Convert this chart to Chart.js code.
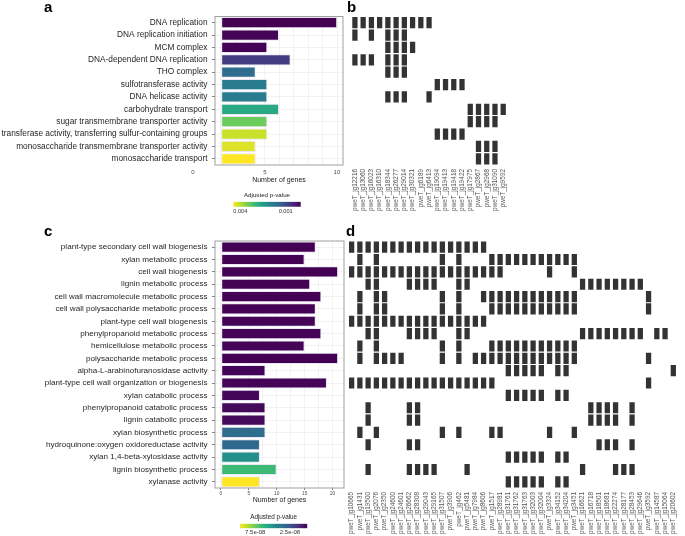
<!DOCTYPE html>
<html>
<head>
<meta charset="utf-8">
<script src="https://cdn.jsdelivr.net/npm/chart.js@4.4.1/dist/chart.umd.min.js"></script>
<style>
  body { margin: 0; background: #fff; }
  #page { position: relative; width: 685px; height: 536px; overflow: hidden; }
  canvas { position: absolute; }
  .tag { position: absolute; font: bold 15px/1 "Liberation Sans", Arial, sans-serif; color: #000; }
</style>
</head>
<body>
<div id="page">
  <canvas id="chartA" width="350" height="184" style="left:0;top:0"></canvas>
  <canvas id="legendA" width="85" height="30" style="left:225px;top:187px"></canvas>
  <canvas id="chartB" width="170" height="216" style="left:345px;top:0"></canvas>
  <canvas id="chartC" width="350" height="276" style="left:0;top:228px"></canvas>
  <canvas id="legendC" width="85" height="26" style="left:232px;top:510px"></canvas>
  <canvas id="chartD" width="340" height="308" style="left:345px;top:228px"></canvas>
  <div class="tag" style="left:44px;top:-1px">a</div>
  <div class="tag" style="left:347px;top:-1px">b</div>
  <div class="tag" style="left:44px;top:223px">c</div>
  <div class="tag" style="left:346px;top:223px">d</div>
</div>
<script>
// ---- panel a / b : enriched terms (top half) ----
const termsA = [
  'DNA replication', 'DNA replication initiation', 'MCM complex', 'DNA-dependent DNA replication',
  'THO complex', 'sulfotransferase activity', 'DNA helicase activity', 'carbohydrate transport',
  'sugar transmembrane transporter activity', 'transferase activity, transferring sulfur-containing groups',
  'monosaccharide transmembrane transporter activity', 'monosaccharide transport'
];
const countsA = [10, 5, 4, 6, 3, 4, 4, 5, 4, 4, 3, 3];
const padjA = [1.0e-5, 3.0e-5, 4.0e-5, 7.7e-4, 1.57e-3, 1.88e-3, 1.88e-3, 2.68e-3, 3.44e-3, 4.10e-3, 4.24e-3, 4.46e-3];
const axisTicksA = [0, 5, 10];
const legendTicksA = [0.004, 0.001];

const genesB = [
  'pweT_jg12216', 'pweT_jg13060', 'pweT_jg16023', 'pweT_jg16310', 'pweT_jg18344', 'pweT_jg26277',
  'pweT_jg29014', 'pweT_jg30321', 'pweT_jg6189', 'pweT_jg6413', 'pweT_jg19094', 'pweT_jg19413',
  'pweT_jg19418', 'pweT_jg19422', 'pweT_jg17975', 'pweT_jg2867', 'pweT_jg2968', 'pweT_jg31090', 'pweT_jg9592'
];
// gene columns (index into genesB) belonging to each term of termsA
const membersB = [
  [0, 1, 2, 3, 4, 5, 6, 7, 8, 9],
  [0, 2, 4, 5, 6],
  [4, 5, 6, 7],
  [0, 1, 2, 4, 5, 6],
  [4, 5, 6],
  [10, 11, 12, 13],
  [4, 5, 6, 9],
  [14, 15, 16, 17, 18],
  [14, 15, 16, 17],
  [10, 11, 12, 13],
  [15, 16, 17],
  [15, 16, 17]
];

// ---- panel c / d : cell wall terms (bottom half) ----
const termsC = [
  'plant-type secondary cell wall biogenesis', 'xylan metabolic process', 'cell wall biogenesis',
  'lignin metabolic process', 'cell wall macromolecule metabolic process', 'cell wall polysaccharide metabolic process',
  'plant-type cell wall biogenesis', 'phenylpropanoid metabolic process', 'hemicellulose metabolic process',
  'polysaccharide metabolic process', 'alpha-L-arabinofuranosidase activity', 'plant-type cell wall organization or biogenesis',
  'xylan catabolic process', 'phenylpropanoid catabolic process', 'lignin catabolic process',
  'xylan biosynthetic process', 'hydroquinone:oxygen oxidoreductase activity', 'xylan 1,4-beta-xylosidase activity',
  'lignin biosynthetic process', 'xylanase activity'
];
const countsC = [17, 15, 21, 16, 18, 17, 17, 18, 15, 21, 8, 19, 7, 8, 8, 8, 7, 7, 10, 7];
const padjC = [2.1e-10, 3.5e-10, 1.0e-10, 5.2e-10, 2.8e-10, 4.1e-10, 6.0e-10, 7.3e-10, 8.8e-10, 1.6e-10,
               1.2e-9, 9.5e-10, 1.4e-9, 2.2e-9, 2.4e-9, 3.4e-8, 3.3e-8, 4.85e-8, 6.6e-8, 9.7e-8];
const axisTicksC = [0, 5, 10, 15, 20];
const legendTicksC = [7.5e-8, 2.5e-8];

const genesD = [
  'pweT_jg10665', 'pweT_jg1431', 'pweT_jg19500', 'pweT_jg2076', 'pweT_jg2350', 'pweT_jg24600',
  'pweT_jg24601', 'pweT_jg26662', 'pweT_jg28308', 'pweT_jg29043', 'pweT_jg29165', 'pweT_jg31507',
  'pweT_jg3906', 'pweT_jg462', 'pweT_jg5481', 'pweT_jg7984', 'pweT_jg8606', 'pweT_jg1517',
  'pweT_jg28981', 'pweT_jg31761', 'pweT_jg31762', 'pweT_jg31763', 'pweT_jg32003', 'pweT_jg32004',
  'pweT_jg3324', 'pweT_jg34152', 'pweT_jg34204', 'pweT_jg3451', 'pweT_jg16621', 'pweT_jg16718',
  'pweT_jg18501', 'pweT_jg18681', 'pweT_jg22274', 'pweT_jg28177', 'pweT_jg28453', 'pweT_jg29646',
  'pweT_jg3592', 'pweT_jg14587', 'pweT_jg15064', 'pweT_jg20602'
];
const membersD = [
  [0, 1, 2, 3, 4, 5, 6, 7, 8, 9, 10, 11, 12, 13, 14, 15, 16],
  [1, 3, 11, 13, 17, 18, 19, 20, 21, 22, 23, 24, 25, 26, 27],
  [0, 1, 2, 3, 4, 5, 6, 7, 8, 9, 10, 11, 12, 13, 14, 15, 16, 17, 18, 24, 27],
  [2, 3, 7, 8, 9, 10, 13, 14, 28, 29, 30, 31, 32, 33, 34, 35],
  [1, 3, 4, 11, 13, 16, 17, 18, 19, 20, 21, 22, 23, 24, 25, 26, 27, 36],
  [1, 3, 4, 11, 13, 17, 18, 19, 20, 21, 22, 23, 24, 25, 26, 27, 36],
  [0, 1, 2, 3, 4, 5, 6, 7, 8, 9, 10, 11, 12, 13, 14, 15, 16],
  [2, 3, 7, 8, 9, 10, 13, 14, 28, 29, 30, 31, 32, 33, 34, 35, 37, 38],
  [1, 3, 11, 13, 17, 18, 19, 20, 21, 22, 23, 24, 25, 26, 27],
  [1, 3, 4, 5, 6, 11, 13, 15, 16, 17, 18, 19, 20, 21, 22, 23, 24, 25, 26, 27, 36],
  [19, 20, 21, 22, 23, 25, 26, 39],
  [0, 1, 2, 3, 4, 5, 6, 7, 8, 9, 10, 11, 12, 13, 14, 15, 16, 17, 36],
  [19, 20, 21, 22, 23, 25, 26],
  [2, 7, 8, 29, 30, 31, 32, 34],
  [2, 7, 8, 29, 30, 31, 32, 34],
  [1, 3, 11, 13, 17, 18, 24, 27],
  [2, 7, 8, 30, 31, 32, 34],
  [19, 20, 21, 22, 23, 25, 26],
  [2, 7, 8, 9, 10, 14, 28, 32, 33, 34],
  [19, 20, 21, 22, 23, 25, 26]
];

// ---- helpers ----
Chart.defaults.font.family = '"Liberation Sans", Arial, Helvetica, sans-serif';
Chart.defaults.animation = false;

const viridisStops = ['#440154', '#482878', '#3e4a89', '#31688e', '#26828e',
                      '#1f9e89', '#35b779', '#6dcd59', '#b4de2c', '#fde725'];

function hexRgb(h) {
  return [1, 3, 5].map(i => parseInt(h.slice(i, i + 2), 16));
}

function viridis(t) {
  t = Math.min(1, Math.max(0, t));
  const pos = t * (viridisStops.length - 1);
  const i = Math.min(Math.floor(pos), viridisStops.length - 2);
  const f = pos - i;
  const a = hexRgb(viridisStops[i]), b = hexRgb(viridisStops[i + 1]);
  const c = a.map((v, k) => Math.round(v + (b[k] - v) * f));
  return 'rgb(' + c.join(',') + ')';
}

// majors plus evenly split minor lines between them
function gridLines(majors, parts) {
  const out = [];
  majors.forEach((v, i) => {
    out.push(v);
    if (i < majors.length - 1) {
      const step = (majors[i + 1] - v) / parts;
      for (let k = 1; k < parts; k++) out.push(v + k * step);
    }
  });
  return out;
}

const panelFrame = {
  id: 'panelFrame',
  afterDatasetsDraw(chart, args, opts) {
    const { ctx, chartArea: a } = chart;
    ctx.save();
    ctx.strokeStyle = opts.color || '#999';
    ctx.lineWidth = 1;
    ctx.strokeRect(a.left, a.top, a.width, a.height);
    ctx.restore();
  }
};

function termBars(terms, counts, padj) {
  const lo = Math.min(...padj), hi = Math.max(...padj);
  return {
    labels: terms,
    datasets: [{
      data: counts,
      backgroundColor: padj.map(p => viridis((p - lo) / (hi - lo))),
      borderColor: 'rgba(232,228,242,0.95)',
      borderWidth: 1,
      borderSkipped: false,
      barPercentage: 0.9,
      categoryPercentage: 1
    }]
  };
}

function termAxis(width, size) {
  return {
    grid: { offset: false, color: '#ececec', lineWidth: 0.7, tickColor: '#4d4d4d', tickLength: 3 },
    border: { display: false },
    ticks: { color: '#262626', font: { size: size }, padding: 4.5, autoSkip: false },
    afterFit: s => { s.width = width; }
  };
}

function matrixChart(id, genes, members, padding, axisHeight) {
  const cells = [];
  members.forEach((cols, row) => cols.forEach(c => cells.push({ x: genes[c], y: [row - 0.45, row + 0.45] })));
  return new Chart(document.getElementById(id), {
    type: 'bar',
    data: {
      labels: genes,
      datasets: [{ data: cells, backgroundColor: '#333333', borderWidth: 0, barPercentage: 0.64, categoryPercentage: 1 }]
    },
    options: {
      responsive: false,
      layout: { padding: padding },
      plugins: { legend: { display: false }, tooltip: { enabled: false } },
      scales: {
        x: {
          grid: { display: false, drawTicks: false },
          border: { display: false },
          ticks: { autoSkip: false, minRotation: 90, maxRotation: 90, color: '#555', font: { size: 6.4 }, padding: 4 },
          afterFit: s => { s.height = axisHeight; }
        },
        y: { type: 'linear', display: false, reverse: true, min: -0.5, max: members.length - 0.5 }
      }
    }
  });
}

function pvalueLegend(id, padj, ticks, fmt, o) {
  const lo = Math.min(...padj), hi = Math.max(...padj);
  return new Chart(document.getElementById(id), {
    type: 'bar',
    data: {
      labels: [''],
      datasets: [{
        data: [[lo, hi]],
        borderWidth: 0,
        barPercentage: 1,
        categoryPercentage: 1,
        backgroundColor: ctx => {
          const a = ctx.chart.chartArea;
          if (!a) return viridisStops[0];
          const g = ctx.chart.ctx.createLinearGradient(a.left, 0, a.right, 0);
          viridisStops.forEach((c, i) => g.addColorStop(1 - i / (viridisStops.length - 1), c));
          return g;
        }
      }]
    },
    options: {
      indexAxis: 'y',
      responsive: false,
      layout: { padding: o.padding },
      plugins: {
        legend: { display: false },
        tooltip: { enabled: false },
        title: { display: true, text: 'Adjusted p-value', color: '#1a1a1a',
                 font: { size: o.titleSize, weight: 'normal' }, padding: o.titlePad }
      },
      scales: {
        x: {
          type: 'linear', reverse: true, min: lo, max: hi,
          afterBuildTicks: s => { s.ticks = ticks.map(v => ({ value: v })); },
          grid: { display: false, drawTicks: false },
          border: { display: false },
          ticks: { callback: v => fmt(v), color: '#333', font: { size: o.tickSize }, padding: o.tickPad, autoSkip: false, maxRotation: 0 },
          afterFit: s => { s.height = o.axisHeight; }
        },
        y: { display: false }
      }
    }
  });
}

// ---- a: bar chart ----
const maxA = Math.max(...countsA);
new Chart(document.getElementById('chartA'), {
  type: 'bar',
  data: termBars(termsA, countsA, padjA),
  options: {
    indexAxis: 'y',
    responsive: false,
    layout: { padding: { top: 16.5, right: 7, bottom: 0, left: 0 } },
    plugins: { legend: { display: false }, tooltip: { enabled: false }, panelFrame: { color: '#a0a0a0' } },
    scales: {
      y: termAxis(215, 8.3),
      x: {
        min: -0.05 * maxA, max: 1.05 * maxA, weight: 0,
        afterBuildTicks: s => { s.ticks = gridLines(axisTicksA, 4).map(v => ({ value: v })); },
        ticks: { display: false },
        grid: { color: '#ececec', lineWidth: 0.7, drawTicks: false },
        border: { display: false }
      },
      // the source figure's tick labels sit off the bar scale, so they get their own axis
      x2: {
        type: 'linear', position: 'bottom', weight: 1, min: 1.53, max: 10.42,
        afterBuildTicks: s => { s.ticks = axisTicksA.map(v => ({ value: v })); },
        grid: { display: false, drawTicks: false },
        border: { display: false },
        ticks: { color: '#4d4d4d', font: { size: 6 }, padding: 4, autoSkip: false, maxRotation: 0 },
        title: { display: true, text: 'Number of genes', color: '#1a1a1a', font: { size: 7 }, padding: 0 },
        afterFit: s => { s.height = 19; }
      }
    }
  },
  plugins: [panelFrame]
});

pvalueLegend('legendA', padjA, legendTicksA, v => v.toFixed(3), {
  padding: { left: 8.3, right: 9.3, top: 0, bottom: 0 },
  titleSize: 6.2, titlePad: { top: 4.3, bottom: 3 },
  tickSize: 5.6, tickPad: 1, axisHeight: 10.3
});

// ---- b: gene membership ----
matrixChart('chartB', genesB, membersB, { left: 5.8, right: 4.1, top: 16.5, bottom: 0 }, 51);

// ---- c: bar chart ----
const maxC = Math.max(...countsC);
new Chart(document.getElementById('chartC'), {
  type: 'bar',
  data: termBars(termsC, countsC, padjC),
  options: {
    indexAxis: 'y',
    responsive: false,
    layout: { padding: { top: 13, right: 6, bottom: 0, left: 0 } },
    plugins: { legend: { display: false }, tooltip: { enabled: false }, panelFrame: { color: '#a0a0a0' } },
    scales: {
      y: termAxis(215, 8.1),
      x: {
        min: -0.05 * maxC, max: 1.05 * maxC,
        afterBuildTicks: s => { s.ticks = gridLines(axisTicksC, 2).map(v => ({ value: v })); },
        ticks: {
          color: '#4d4d4d', font: { size: 4.8 }, padding: 1, autoSkip: false, maxRotation: 0,
          callback: v => axisTicksC.includes(v) ? String(v) : ''
        },
        grid: {
          color: '#ececec', lineWidth: 0.7, tickLength: 2,
          tickColor: ctx => (ctx.tick && axisTicksC.includes(ctx.tick.value)) ? '#4d4d4d' : 'rgba(0,0,0,0)'
        },
        border: { display: false },
        title: { display: true, text: 'Number of genes', color: '#1a1a1a', font: { size: 7 }, padding: 0 },
        afterFit: s => { s.height = 16; }
      }
    }
  },
  plugins: [panelFrame]
});

pvalueLegend('legendC', padjC, legendTicksC,
  v => v.toExponential(1).replace(/e([+-])(\d)$/, 'e$10$2'), {
  padding: { left: 8, right: 9.7, top: 0, bottom: 0 },
  titleSize: 6.3, titlePad: { top: 3.9, bottom: 2.2 },
  tickSize: 6, tickPad: 0, axisHeight: 7.7
});

// ---- d: gene membership ----
matrixChart('chartD', genesD, membersD, { left: 2.5, right: 0.7, top: 13, bottom: 0 }, 48);
</script>
</body>
</html>
